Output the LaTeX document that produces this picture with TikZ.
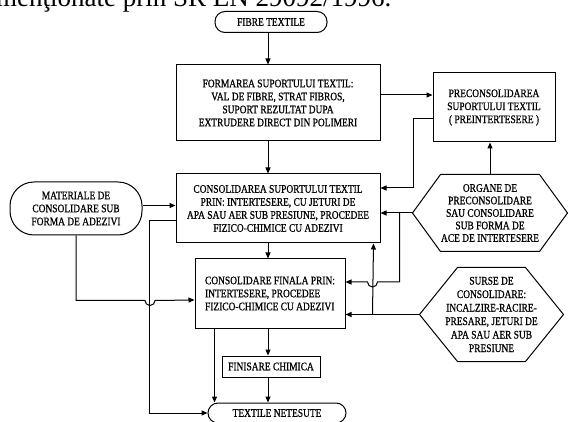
\documentclass[tikz,border=0pt]{standalone}
\usepackage{fontspec}
\setmainfont{Liberation Serif}
\newfontfamily\boxfont[FakeStretch=0.82,FakeBold=0.8]{Liberation Serif}
\usetikzlibrary{arrows.meta}

\tikzset{
  wire/.style={line width=1pt},
  arr/.style={wire, -{Triangle[length=6pt,width=5pt]}},
  box/.style={draw, line width=1pt, align=center, inner sep=0pt,
    font=\boxfont\fontsize{11.5}{13}\selectfont},
  roundbox/.style={box, rounded corners=10pt},
  hexlabel/.style={box, draw=none},
}

\begin{document}
\begin{tikzpicture}[x=1pt,y=-1pt]
  \useasboundingbox (0,0) rectangle (568,422);
  \clip (0,0) rectangle (568,422);
  % line of running text, cut at the top
  \node[anchor=base west, inner sep=0pt, font=\fontsize{27}{30}\selectfont] (title) at (-4,7) {menţionate prin SR EN 29092/1996.};
  \coordinate (spine) at (268,0);
  % main column
  \node[roundbox, minimum width=112pt, minimum height=21pt] (fibre) at (271,22) {FIBRE TEXTILE};
  \node[box, minimum width=204pt, minimum height=76pt] (formare) at (278,103)
    {FORMAREA SUPORTULUI TEXTIL:\\ VAL DE FIBRE, STRAT FIBROS,\\ SUPORT REZULTAT DUPA\\ EXTRUDERE DIRECT DIN POLIMERI};
  \node[box, minimum width=204pt, minimum height=69pt] (consol) at (278,208.5)
    {CONSOLIDAREA SUPORTULUI TEXTIL\\ PRIN: INTERTESERE, CU JETURI DE\\ APA SAU AER SUB PRESIUNE, PROCEDEE\\ FIZICO-CHIMICE CU ADEZIVI};
  \node[box, align=left, minimum width=150pt, minimum height=69pt] (finala) at (270,293.5)
    {CONSOLIDARE FINALA PRIN:\\ INTERTESERE, PROCEDEE\\ FIZICO-CHIMICE CU ADEZIVI};
  \node[box, minimum width=98pt, minimum height=21pt] (finisare) at (271,366.5) {FINISARE CHIMICA};
  \node[roundbox, minimum width=138pt, minimum height=20pt] (textile) at (277,413) {TEXTILE NETESUTE};
  % side blocks
  \node[box, minimum width=122pt, minimum height=69pt] (precons) at (494,107.5)
    {PRECONSOLIDAREA\\ SUPORTULUI TEXTIL\\ ( PREINTERTESERE )};
  \node[roundbox, rounded corners=24pt, minimum width=132pt, minimum height=53pt] (materiale) at (76,208.5)
    {MATERIALE DE\\ CONSOLIDARE SUB\\ FORMA DE ADEZIVI};
  \node[hexlabel, minimum width=154pt, minimum height=76pt, font=\boxfont\fontsize{11.5}{12.5}\selectfont] (organe) at (490,213)
    {ORGANE DE\\ PRECONSOLIDARE\\ SAU CONSOLIDARE\\ SUB FORMA DE\\ ACE DE INTERTESERE};
  \node[hexlabel, minimum width=143pt, minimum height=93pt, font=\boxfont\fontsize{11.5}{13.5}\selectfont] (surse) at (491.5,314.5)
    {SURSE DE\\ CONSOLIDARE:\\ INCALZIRE-RACIRE-\\ PRESARE, JETURI DE\\ APA SAU AER SUB\\ PRESIUNE};
  % hexagons
  \draw[wire] (organe.west) -- ([xshift=28pt]organe.north west) -- ([xshift=-28pt]organe.north east)
    -- (organe.east) -- ([xshift=-28pt]organe.south east) -- ([xshift=28pt]organe.south west) -- cycle;
  \draw[wire] (surse.west) -- ([xshift=38pt]surse.north west) -- ([xshift=-38pt]surse.north east)
    -- (surse.east) -- ([xshift=-38pt]surse.south east) -- ([xshift=38pt]surse.south west) -- cycle;
  % main flow
  \draw[arr] (fibre.south -| spine) -- (formare.north -| spine);
  \draw[arr] (formare.south -| spine) -- (consol.north -| spine);
  \draw[arr] (consol.south -| spine) -- (finala.north -| spine);
  \draw[arr] (finala.south -| spine) -- (finisare.north -| spine);
  \draw[arr] (finisare.south -| spine) -- (textile.north -| spine);
  \draw[arr] ([xshift=20pt]finala.south west) -- ([xshift=20pt]finala.south west |- textile.north);
  % preconsolidation loop
  \draw[arr] ([yshift=8pt]formare.east) -- ([yshift=8pt]formare.east -| precons.west);
  \draw[arr] ([yshift=-11.5pt]precons.west) -| ([xshift=33pt,yshift=20.5pt]consol.east) -- ([yshift=20.5pt]consol.east);
  \draw[arr] (organe.north) -- (organe.north |- precons.south);
  % consolidation means
  \draw[arr] (organe.west) -- (organe.west -| consol.east);
  \draw[arr] ([xshift=-13pt]organe.west) -- ++(0,69) -- ++(-22,0)
    arc[start angle=0, end angle=-180, radius=5pt] -- ([yshift=11.5pt]finala.east);
  \draw[arr] (surse.west) -- (surse.west -| finala.east);
  \draw[arr] ([xshift=-47pt]surse.west) -- ([xshift=-7pt]consol.south east);
  % adhesives
  \draw[arr] ([yshift=3pt]materiale.east) -- ([yshift=3pt]materiale.east -| consol.west);
  \draw[arr] (materiale.south) -- ++(0,65) -- ++(69,0)
    arc[start angle=180, end angle=360, radius=5pt] -- ([yshift=-6.5pt]finala.west);
  \draw[arr] ([yshift=-12.5pt]consol.west) -- ++(-26,0) |- (textile.west);
\end{tikzpicture}
\end{document}
